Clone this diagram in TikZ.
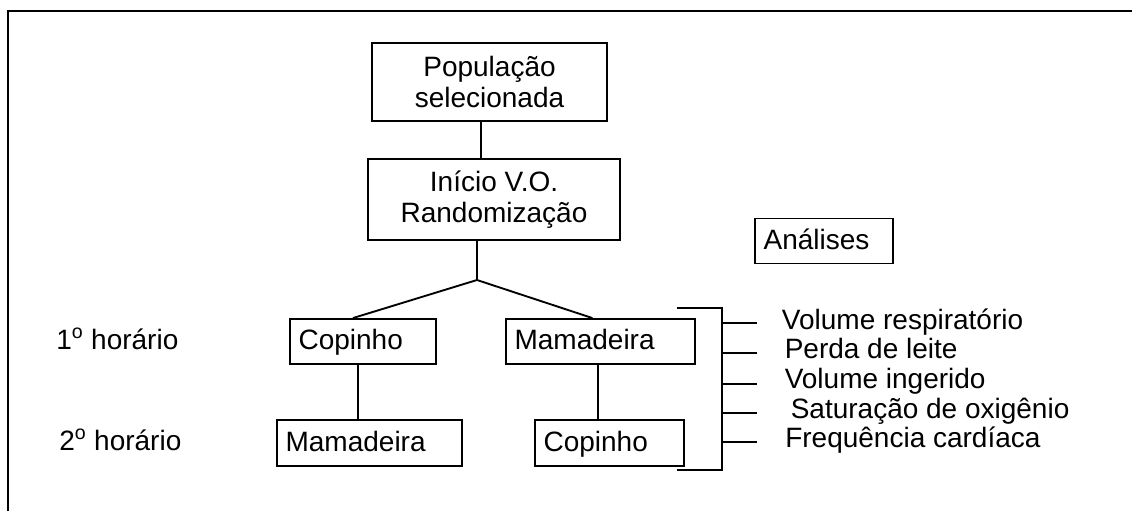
\documentclass[tikz,border=0pt]{standalone}
\usepackage{fontspec}
\setmainfont{Liberation Sans}
\usetikzlibrary{positioning}
\tikzset{%
	every node/.style={
		font=\fontsize{21}{23.5}\selectfont,
		inner sep=0pt
	},
	stagebox/.style={
		draw,
		line width=1.4pt,
		align=center
	},
	armbox/.style={
		draw,
		line width=1.4pt,
		anchor=west,
		align=left,
		inner xsep=6.5pt,
		text height=16.5pt,
		text depth=4pt
	},
	label/.style={
		anchor=base west
	},
	link/.style={
		line width=1.4pt
	}
}

\begin{document}
\begin{tikzpicture}[x=0.75pt,y=-0.75pt]
	\useasboundingbox (0,0) rectangle (1132,511);
	
	% Draw the frame
	\draw[link] (8,511) -- (8,11) -- (1132,11);
	
	% Draw the top boxes
	\node[stagebox, minimum width=176.25pt, minimum height=58.5pt] (pop) at (489.5,82) {População\\selecionada};
	\node[stagebox, minimum width=189pt, minimum height=60.75pt] (ini) at (494,199.5) {Início V.O.\\Randomização};
	\node[armbox, text width=90.5pt, minimum height=33.75pt] (ana) at (754,241) {Análises};
	
	% Draw the arms
	\node[armbox, text width=96.5pt, minimum height=33.75pt] (cop1) at (289,341.5) {Copinho};
	\node[armbox, text width=128.75pt, minimum height=33.75pt] (mam1) at (505,341.5) {Mamadeira};
	\node[armbox, text width=125.75pt, minimum height=34.5pt] (mam2) at (276,443) {Mamadeira};
	\node[armbox, text width=98.75pt, minimum height=34.5pt] (cop2) at (534,443) {Copinho};
	
	% Draw the time labels
	\node[label] (h1) at (56,349) {1\textsuperscript{o} horário};
	\node[label] (h2) at (59,450) {2\textsuperscript{o} horário};
	
	% Draw connections
	\coordinate (j1) at (481,0);
	\coordinate (fork) at (477,280);
	\draw[link] (pop.south -| j1) -- (ini.north -| j1);
	\draw[link] (ini.south -| fork) -- (fork);
	\draw[link] (fork) -- ([xshift=-7.5pt]cop1.north);
	\draw[link] (fork) -- ([xshift=-6pt]mam1.north);
	\draw[link] ([xshift=-3.5pt]cop1.south) -- ([xshift=-3.5pt]cop1.south |- mam2.north);
	\draw[link] ([xshift=-1.6pt]mam1.south) -- ([xshift=-1.6pt]mam1.south |- cop2.north);
	
	% Draw the bracket and the analyses
	\coordinate (bt) at (721.7,307.7);
	\coordinate (bb) at (721.7,470);
	\draw[link] (676.7,307.7) -- (bt) -- (bb) -- (676.7,470);
	\foreach \y in {322.7,352.7,384.3,413.3,441.7}
		\draw[link] (bt |- 0,\y) -- ++(35,0);
	
	\node[label] (v1) at (781.7,329.3) {Volume respiratório};
	\node[label] (v2) at (784.5,358.3) {Perda de leite};
	\node[label] (v3) at (784.5,388) {Volume ingerido};
	\node[label] (v4) at (790.5,418.3) {Saturação de oxigênio};
	\node[label] (v5) at (785,447) {Frequência cardíaca};
	
\end{tikzpicture}
\end{document}
